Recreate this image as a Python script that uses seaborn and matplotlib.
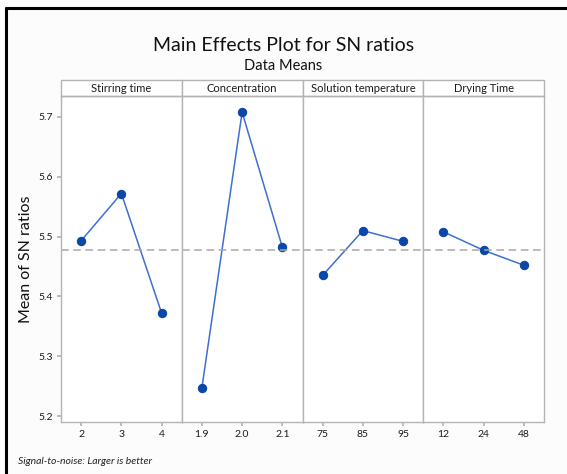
import pandas as pd
import matplotlib.pyplot as plt
import seaborn as sns
from matplotlib.patches import Rectangle
from matplotlib.lines import Line2D

# data
factors = ['Stirring time', 'Concentration', 'Solution temperature', 'Drying Time']
stirring_levels = ['2', '3', '4']
stirring_sn = [5.493, 5.572, 5.372]
conc_levels = ['1.9', '2.0', '2.1']
conc_sn = [5.247, 5.708, 5.482]
temp_levels = ['75', '85', '95']
temp_sn = [5.435, 5.510, 5.492]
drying_levels = ['12', '24', '48']
drying_sn = [5.508, 5.477, 5.452]
overall_mean = 5.478
y_ticks = [5.2, 5.3, 5.4, 5.5, 5.6, 5.7]

levels = [stirring_levels, conc_levels, temp_levels, drying_levels]
values = [stirring_sn, conc_sn, temp_sn, drying_sn]

sns.set_theme(style='white')
plt.rcParams['font.family'] = ['Lato', 'DejaVu Sans']

fig = plt.figure(figsize=(5.67, 4.74), dpi=100)
fig.patch.set_facecolor('#fcfcfc')

# outer frame (left + top edges)
fig.add_artist(Line2D([6 / 567, 6 / 567], [-0.01, 1 - 8 / 474], transform=fig.transFigure,
                      color='black', lw=2.2))
fig.add_artist(Line2D([6 / 567, 1.01], [1 - 8 / 474, 1 - 8 / 474], transform=fig.transFigure,
                      color='black', lw=2.2))

left, right = 61 / 567, 544 / 567
bottom, top = 1 - 422 / 474, 1 - 96 / 474
w = (right - left) / 4
grey = '#b4b4b4'

for i, (name, lv, vals) in enumerate(zip(factors, levels, values)):
    ax = fig.add_axes([left + i * w, bottom, w, top - bottom])
    ax.set_facecolor('white')
    df = pd.DataFrame({'level': lv, 'sn': vals})
    sns.lineplot(data=df, x='level', y='sn', ax=ax, color='#3d70cf', lw=1.1,
                 marker='o', markersize=6, markerfacecolor='#0b47a8',
                 markeredgecolor='#0b47a8', sort=False)
    ax.axhline(overall_mean, color='#a8a8a8', lw=1.1, ls=(0, (5, 3)))
    ax.set_xlim(-0.5, 2.5)
    ax.set_ylim(5.19, 5.735)
    ax.set_xlabel('')
    ax.set_ylabel('')
    for s in ax.spines.values():
        s.set_color(grey)
        s.set_linewidth(1.0)
    ax.tick_params(axis='x', bottom=True, length=3, color=grey, labelsize=7.5, pad=3,
                   labelcolor='#1a1a1a')
    if i == 0:
        ax.set_yticks(y_ticks)
        ax.set_yticklabels([f'{t:.1f}' for t in y_ticks])
        ax.tick_params(axis='y', left=True, length=3, color=grey, labelsize=7.5, pad=3,
                       labelcolor='#1a1a1a')
        ax.set_ylabel('Mean of SN ratios', fontsize=11.5, labelpad=4, color='#111111')
    else:
        ax.set_yticks([])
    # strip header
    ax.add_patch(Rectangle((0, 1), 1, 16 / 326, transform=ax.transAxes, clip_on=False,
                           facecolor='white', edgecolor=grey, lw=1.0))
    ax.text(0.5, 1 + 8 / 326, name, transform=ax.transAxes, ha='center', va='center',
            fontsize=8, color='#1a1a1a')

fig.text(0.5, 1 - 45 / 474, 'Main Effects Plot for SN ratios', ha='center', va='center',
         fontsize=14, color='#111111')
fig.text(0.5, 1 - 66 / 474, 'Data Means', ha='center', va='center',
         fontsize=10.5, color='#111111')
fig.text(18 / 567, 1 - 461 / 474, 'Signal-to-noise: Larger is better', ha='left', va='center',
         fontsize=7.5, style='italic', color='#222222')

fig.savefig('out.png', dpi=100, facecolor=fig.get_facecolor())
